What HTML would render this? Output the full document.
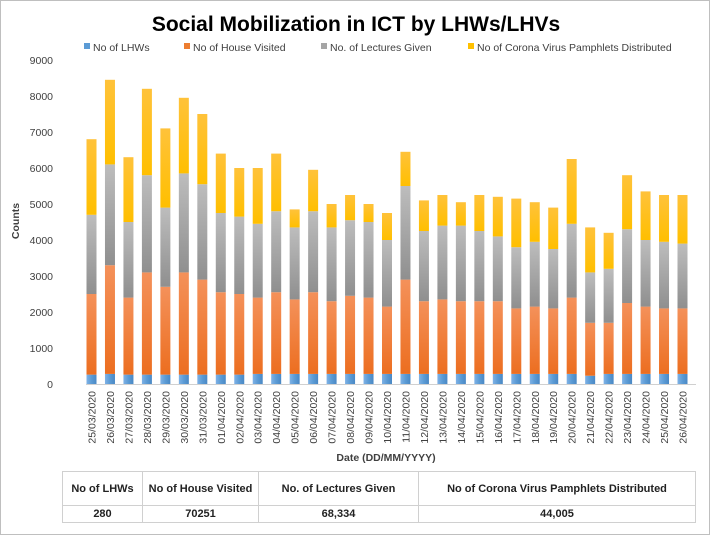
<!DOCTYPE html>
<html><head><meta charset="utf-8"><style>
body{margin:0;background:#fff;font-family:"Liberation Sans",sans-serif;}
#wrap{position:relative;width:708px;height:533px;border:1px solid #bfbfbf;overflow:hidden;}
table{position:absolute;left:61px;top:470px;border-collapse:collapse;font-size:11px;font-weight:bold;color:#222;}
td{border:1px solid #d0d0d0;text-align:center;padding:0;}
</style></head><body>
<div id="wrap">
<svg id="chart" width="708" height="465" style="position:absolute;left:0;top:0">
<defs>
<linearGradient id="gB" x1="0" x2="1"><stop offset="0" stop-color="#7fb2e6"/><stop offset="0.5" stop-color="#5b9bd5"/><stop offset="1" stop-color="#4a88c4"/></linearGradient>
<linearGradient id="gO" x1="0" x2="0" y1="0" y2="1"><stop offset="0" stop-color="#f4915a"/><stop offset="1" stop-color="#ec6e20"/></linearGradient>
<linearGradient id="gG" x1="0" x2="0" y1="0" y2="1"><stop offset="0" stop-color="#bdbdbd"/><stop offset="1" stop-color="#8f8f8f"/></linearGradient>
<linearGradient id="gY" x1="0" x2="0" y1="0" y2="1"><stop offset="0" stop-color="#ffc23a"/><stop offset="1" stop-color="#ffbf00"/></linearGradient>
</defs>
<text x="355" y="30" text-anchor="middle" font-size="21" font-weight="bold" fill="#000">Social Mobilization in ICT by LHWs/LHVs</text>
<g id="legend" font-size="10.5" fill="#404040"></g>
<g id="yaxis" font-size="10.5" fill="#404040"></g>
<g id="bars"></g>
<g id="xaxis" font-size="10.5" fill="#404040"></g>
<line x1="85" y1="383.5" x2="695" y2="383.5" stroke="#d0d0d0"/>
<text x="18" y="220" transform="rotate(-90 18 220)" text-anchor="middle" font-size="10.5" font-weight="bold" fill="#404040">Counts</text>
<text x="385" y="460" text-anchor="middle" font-size="10.5" font-weight="bold" fill="#404040">Date (DD/MM/YYYY)</text>
</svg>
<table>
<tr style="height:34px"><td style="width:79px">No of LHWs</td><td style="width:115px">No of House Visited</td><td style="width:159px">No. of Lectures Given</td><td style="width:276px">No of Corona Virus Pamphlets Distributed</td></tr>
<tr style="height:17px"><td>280</td><td>70251</td><td>68,334</td><td>44,005</td></tr>
</table>
</div>
<script>
const categories=["25/03/2020","26/03/2020","27/03/2020","28/03/2020","29/03/2020","30/03/2020","31/03/2020","01/04/2020","02/04/2020","03/04/2020","04/04/2020","05/04/2020","06/04/2020","07/04/2020","08/04/2020","09/04/2020","10/04/2020","11/04/2020","12/04/2020","13/04/2020","14/04/2020","15/04/2020","16/04/2020","17/04/2020","18/04/2020","19/04/2020","20/04/2020","21/04/2020","22/04/2020","23/04/2020","24/04/2020","25/04/2020","26/04/2020"];
const lhws=[260,280,260,260,260,260,260,260,260,280,280,280,280,280,280,280,280,280,280,280,280,280,280,280,280,280,280,230,280,280,280,280,280];
const houses=[2240,3020,2140,2840,2440,2840,2640,2290,2240,2120,2270,2070,2270,2020,2170,2120,1870,2620,2020,2070,2020,2020,2020,1820,1870,1820,2120,1470,1420,1970,1870,1820,1820];
const lectures=[2200,2800,2100,2700,2200,2750,2650,2200,2150,2050,2250,2000,2250,2050,2100,2100,1850,2600,1950,2050,2100,1950,1800,1700,1800,1650,2050,1400,1500,2050,1850,1850,1800];
const pamphlets=[2100,2350,1800,2400,2200,2100,1950,1650,1350,1550,1600,500,1150,650,700,500,750,950,850,850,650,1000,1100,1350,1100,1150,1800,1250,1000,1500,1350,1300,1350];
const yTicks=[0,1000,2000,3000,4000,5000,6000,7000,8000,9000];
const seriesNames=["No of LHWs","No of House Visited","No. of Lectures Given","No of Corona Virus Pamphlets Distributed"];
const NS="http://www.w3.org/2000/svg";
const y0=383,yTop=59,yMax=9000;
function y(v){return y0-(v/yMax)*(y0-yTop);}
function x(i){return 90.5+i*((681.5-90.5)/(categories.length-1));}
function mk(t,a,p){const e=document.createElementNS(NS,t);for(const k in a)e.setAttribute(k,a[k]);p.appendChild(e);return e;}
const yg=document.getElementById('yaxis');
yTicks.forEach(v=>{const t=mk('text',{x:52,y:y(v)+4,'text-anchor':'end'},yg);t.textContent=v;

});
const fills=["url(#gB)","url(#gO)","url(#gG)","url(#gY)"];
const series=[lhws,houses,lectures,pamphlets];
const segNames=["bar-lhws","bar-houses","bar-lectures","bar-pamphlets"];
const bg=document.getElementById('bars'),xg=document.getElementById('xaxis');
categories.forEach((c,i)=>{let acc=0;
series.forEach((s,k)=>{const r=mk('rect',{x:x(i)-5,y:y(acc+s[i]),width:10,height:y(acc)-y(acc+s[i]),fill:fills[k]},bg);


acc+=s[i];});
const t=mk('text',{x:0,y:0,'text-anchor':'end',transform:`translate(${x(i)+4},390) rotate(-90)`},xg);t.textContent=c;

});
const lg=document.getElementById('legend');
const lx=[83,183,320,467];
seriesNames.forEach((n,k)=>{const g=mk('g',{},lg);


mk('rect',{x:lx[k],y:42,width:6,height:6,fill:["#5b9bd5","#ed7d31","#a5a5a5","#ffc000"][k]},g);
const t=mk('text',{x:lx[k]+9,y:50},g);t.textContent=n;});
</script>
</body></html>
